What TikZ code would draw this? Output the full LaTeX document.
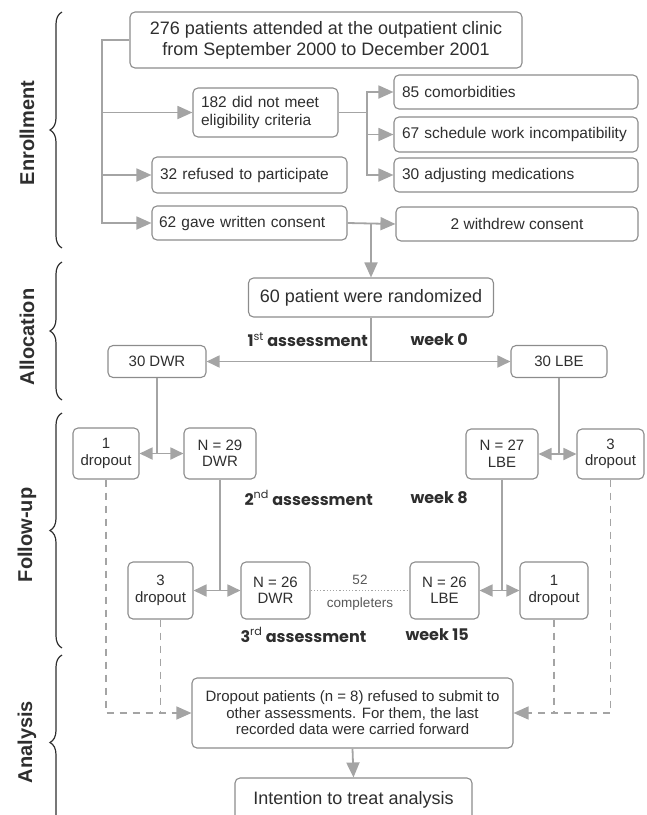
\documentclass[tikz,border=0pt]{standalone}
\usepackage{fontspec}
\setmainfont{Liberation Sans}
\newfontfamily\geofont{Poppins}
\usepackage{xcolor}
\usepackage{tikz}
\usetikzlibrary{arrows.meta, decorations.pathreplacing}
\definecolor{boxLine}{HTML}{8C8C8C}
\definecolor{linkGray}{HTML}{A4A4A4}
\definecolor{txtDark}{HTML}{2E2E2E}
\newcommand{\bigtxt}{\fontsize{18}{21}\selectfont}
\newcommand{\midtxt}{\fontsize{15.5}{17.5}\selectfont}
\newcommand{\smtxt}{\fontsize{15}{16.5}\selectfont}

\begin{document}
\begin{tikzpicture}[x=1pt, y=-1pt,
    flowbox/.style={draw=boxLine, line width=1.1pt, rounded corners=5pt, text=txtDark,
        inner sep=0pt, align=center},
    leftbox/.style={flowbox, align=left, inner xsep=8pt},
    link/.style={draw=linkGray, line width=1.8pt},
    tip/.style={-{Triangle[length=15pt, width=13pt]}},
    twotip/.style={{Triangle[length=13pt, width=12pt]}-{Triangle[length=13pt, width=12pt]}},
    dashlink/.style={draw=linkGray, line width=1.4pt, dash pattern=on 7pt off 6pt},
    seclabel/.style={font=\fontsize{20}{22}\selectfont\bfseries, text=txtDark, rotate=90},
    stage/.style={font=\geofont\fontsize{16}{18}\selectfont\bfseries, text=txtDark, anchor=west},
    brace/.style={draw=txtDark, line width=1.2pt, decorate, decoration={brace, amplitude=12pt}}]

    \useasboundingbox (0,0) rectangle (647,815);
    \clip (0,0) rectangle (647,815);

    % section braces and labels
    \draw[brace] (62,248) -- (62,12);
    \draw[brace] (62,400) -- (62,262);
    \draw[brace] (62,648) -- (62,413);
    \draw[brace] (62,830) -- (62,655);
    \node[seclabel] (enrollLbl) at (27,133) {Enrollment};
    \node[seclabel] (allocLbl) at (27,337) {Allocation};
    \node[seclabel] (followLbl) at (27,535) {Follow-up};
    \node[seclabel] (analysisLbl) at (27,742) {Analysis};

    % enrollment
    \node[flowbox, minimum width=392pt, minimum height=56pt, font=\bigtxt] (clinic) at (326,40)
        {276 patients attended at the outpatient clinic\\from September 2000 to December 2001};
    \node[leftbox, text width=129pt, minimum height=49pt, font=\midtxt] (inel) at (265.5,112.5)
        {182 did not meet\\eligibility criteria};
    \node[leftbox, text width=179pt, minimum height=36pt, font=\midtxt, inner xsep=8pt] (refused) at (249.5,175)
        {32 refused to participate};
    \node[leftbox, text width=181pt, minimum height=34pt, font=\midtxt, inner xsep=7pt] (consent) at (249.5,223)
        {62 gave written consent};
    \node[leftbox, text width=228pt, minimum height=34pt, font=\midtxt] (comorb) at (516,92)
        {85 comorbidities};
    \node[leftbox, text width=228pt, minimum height=35pt, font=\midtxt] (sched) at (516,134.5)
        {67 schedule work incompatibility};
    \node[leftbox, text width=228pt, minimum height=34pt, font=\midtxt] (adjust) at (516,175)
        {30 adjusting medications};
    \node[flowbox, minimum width=242pt, minimum height=34pt, font=\midtxt] (withdrew) at (517,224)
        {2 withdrew consent};

    \coordinate (trunk) at (102,40);
    \coordinate (fork) at (367,112.5);
    \draw[link, tip] (clinic.west) -- (trunk) |- (consent.west);
    \draw[link, tip] (trunk |- inel.west) -- (inel.west);
    \draw[link, tip] (trunk |- refused.west) -- (refused.west);
    \draw[link, tip] (inel.east) -- (fork) |- (comorb.west);
    \draw[link, tip] (fork) |- (adjust.west);
    \draw[link, tip] (fork |- sched.west) -- (sched.west);
    \draw[link, tip] (consent.east) -- (withdrew.west);

    % allocation
    \node[flowbox, minimum width=245pt, minimum height=39pt, font=\bigtxt] (random) at (371,297.5)
        {60 patient were randomized};
    \node[flowbox, minimum width=98pt, minimum height=32pt, font=\smtxt] (dwr30) at (157,361.5) {30 DWR};
    \node[flowbox, minimum width=96pt, minimum height=32pt, font=\smtxt] (lbe30) at (559,361.5) {30 LBE};
    \draw[link, tip] (consent.east -| random.north) -- (random.north);
    \draw[link] (random.south) -- (random.south |- dwr30.east);
    \draw[link, twotip] (dwr30.east) -- (lbe30.west);
    \node[stage] (stage1) at (244,340) {1\textsuperscript{\mdseries st} assessment};
    \node[stage] (week1) at (407,340) {week 0};

    % follow-up
    \node[flowbox, minimum width=66pt, minimum height=51pt, font=\smtxt] (dropA) at (106,453.5) {1\\dropout};
    \node[flowbox, minimum width=72pt, minimum height=51pt, font=\smtxt] (dwr29) at (220,453.5) {N = 29\\DWR};
    \node[flowbox, minimum width=72pt, minimum height=50pt, font=\smtxt] (lbe27) at (502,454) {N = 27\\LBE};
    \node[flowbox, minimum width=67pt, minimum height=50pt, font=\smtxt] (dropB) at (610.5,454) {3\\dropout};
    \draw[link] (dwr30.south) -- (dwr30.south |- dwr29.west);
    \draw[link, twotip] (dropA.east) -- (dwr29.west);
    \draw[link] (lbe30.south) -- (lbe30.south |- lbe27.east);
    \draw[link, twotip] (lbe27.east) -- (dropB.west);
    \node[stage] (stage2) at (241,498) {2\textsuperscript{\mdseries nd} assessment};
    \node[stage] (week2) at (407,498) {week 8};

    \node[flowbox, minimum width=65pt, minimum height=57pt, font=\smtxt] (dropC) at (160.5,590.5) {3\\dropout};
    \node[flowbox, minimum width=69pt, minimum height=57pt, font=\smtxt] (dwr26) at (275.5,590.5) {N = 26\\DWR};
    \node[flowbox, minimum width=69pt, minimum height=57pt, font=\smtxt] (lbe26) at (444.5,590.5) {N = 26\\LBE};
    \node[flowbox, minimum width=68pt, minimum height=57pt, font=\smtxt] (dropD) at (554,590.5) {1\\dropout};
    \draw[link] (dwr29.south) -- (dwr29.south |- dwr26.west);
    \draw[link, twotip] (dropC.east) -- (dwr26.west);
    \draw[link] (lbe27.south) -- (lbe27.south |- lbe26.east);
    \draw[link, twotip] (lbe26.east) -- (dropD.west);
    \draw[draw=linkGray, line width=1.2pt, dotted] (dwr26.east) -- (lbe26.west)
        node[midway, above=2pt, font=\fontsize{13.5}{15}\selectfont, text=txtDark!80] (pairTop) {52}
        node[midway, below=3pt, font=\fontsize{13.5}{15}\selectfont, text=txtDark!80] (pairBot) {completers};
    \node[stage] (stage3) at (237,635) {3\textsuperscript{\mdseries rd} assessment};
    \node[stage] (week3) at (402,635) {week 15};

    % analysis
    \node[flowbox, minimum width=321pt, minimum height=70pt, font=\smtxt] (carry) at (352.5,713)
        {Dropout patients (n = 8) refused to submit to\\other assessments. For them, the last\\recorded data were carried forward};
    \node[flowbox, minimum width=237pt, minimum height=62pt, font=\bigtxt, text height=13pt] (itt) at (353.5,809)
        {\raisebox{11pt}{Intention to treat analysis}};
    \draw[dashlink, tip] (dropA.south) |- (carry.west);
    \draw[dashlink] (dropC.south) -- (dropC.south |- carry.west);
    \draw[dashlink, tip] (dropB.south) |- (carry.east);
    \draw[dashlink] (dropD.south) -- (dropD.south |- carry.east);
    \draw[link, tip] (carry.south) -- (itt.north);
\end{tikzpicture}
\end{document}
